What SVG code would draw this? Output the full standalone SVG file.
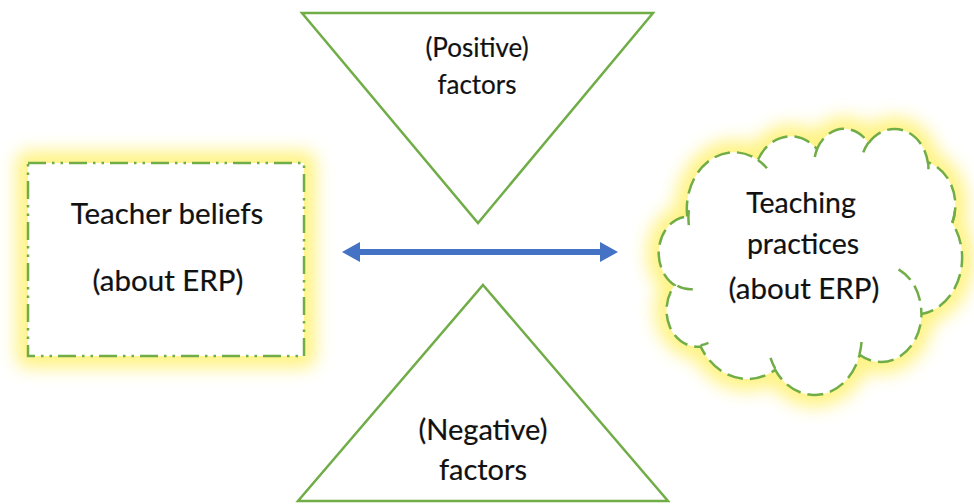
<svg xmlns="http://www.w3.org/2000/svg" width="974" height="504" viewBox="0 0 974 504">
<style>
.lbl{font-family:Lato,"Open Sans","Liberation Sans",sans-serif;fill:#111111;stroke:#111111;stroke-width:0.2;text-anchor:middle}
.tri{fill:#ffffff;stroke:#70AD47;stroke-width:2.5;stroke-linejoin:miter}
.glow{fill:#FFF066;stroke:#FFF066;stroke-width:24;stroke-linejoin:round;opacity:0.8;filter:url(#blur)}
.rect{fill:#ffffff;stroke:#70AD47;stroke-width:2.5;stroke-dasharray:18 6 2.5 6 2.5 6}
.cloud{fill:#ffffff;stroke:#70AD47;stroke-width:2.5;stroke-dasharray:16 7}
.inner{fill:none;stroke:#70AD47;stroke-width:2.5;stroke-dasharray:16 7}
.conn{stroke:#4472C4;stroke-width:6;fill:none}
</style>
<defs>
<filter id="blur" x="-30%" y="-30%" width="160%" height="160%"><feGaussianBlur stdDeviation="8.5"/></filter>
<marker id="ah" viewBox="0 0 18 20" refX="4" refY="10" markerWidth="18" markerHeight="20" markerUnits="userSpaceOnUse" orient="auto-start-reverse"><path d="M0,0 L18,10 L0,20 Z" fill="#4472C4"/></marker>
<path id="cloudPath" d="M687.26,216.48 A47.21,56.59 0 0 1 757.90,160.03 A37.28,44.75 0 0 1 816.98,149.14 A30.51,36.61 0 0 1 868.55,143.27 A33.95,40.61 0 0 1 927.87,162.33 A37.28,44.78 0 0 1 952.34,223.19 A47.36,56.77 0 0 1 921.47,313.95 A40.44,48.44 0 0 1 859.62,354.65 A47.20,56.74 0 0 1 775.21,369.77 A53.97,64.92 0 0 1 700.57,346.40 A30.48,36.44 0 0 1 674.76,285.32 A30.37,36.61 0 0 1 687.26,216.48 Z"/>
</defs>
<rect width="974" height="504" fill="#ffffff"/>

<g id="positive-factors">
<polygon class="tri" points="302,13 653,13 478,223"/>
<text class="lbl" x="477" y="57" font-size="26">(Positive)</text>
<text class="lbl" x="477" y="94" font-size="26">factors</text>
</g>

<g id="negative-factors">
<polygon class="tri" points="483,285 668,501 298,501"/>
<text class="lbl" x="483" y="440" font-size="29">(Negative)</text>
<text class="lbl" x="483" y="480" font-size="29">factors</text>
</g>

<g id="teacher-beliefs">
<rect class="glow" x="28" y="163" width="276" height="193"/>
<rect class="rect" x="28" y="163" width="276" height="193"/>
<text class="lbl" x="167" y="224" font-size="29.5">Teacher beliefs</text>
<text class="lbl" x="168" y="291" font-size="29.5">(about ERP)</text>
</g>

<g id="teaching-practices">
<use href="#cloudPath" class="glow"/>
<use href="#cloudPath" class="cloud"/>
<path class="inner" d="M692.81,289.18 A30.37,36.61 0 0 1 675.09,284.27 M708.43,342.89 A30.48,36.44 0 0 1 700.68,345.24 M775.19,368.69 A47.20,56.74 0 0 1 770.51,357.95 M861.52,341.98 A47.20,56.74 0 0 1 859.66,353.73 M898.58,269.34 A40.44,48.44 0 0 1 921.32,313.27 M952.20,222.54 A37.28,44.78 0 0 0 954.85,211.16 M927.91,161.41 A33.95,40.61 0 0 1 928.44,169.19 M863.28,152.33 A33.95,40.61 0 0 1 868.46,142.41 M814.78,157.06 A30.51,36.61 0 0 1 817.29,148.50 M757.87,159.97 A47.21,56.59 0 0 1 766.96,168.28 M688.85,225.22 A47.21,56.59 0 0 1 688.83,210.14"/>
<text class="lbl" x="801" y="213" font-size="28.5">Teaching</text>
<text class="lbl" x="803" y="254" font-size="28.5">practices</text>
<text class="lbl" x="804" y="299" font-size="29.5">(about ERP)</text>
</g>

<g id="connectors">
<line class="conn" x1="356" y1="252" x2="604" y2="252" marker-start="url(#ah)" marker-end="url(#ah)"/>
</g>
</svg>
